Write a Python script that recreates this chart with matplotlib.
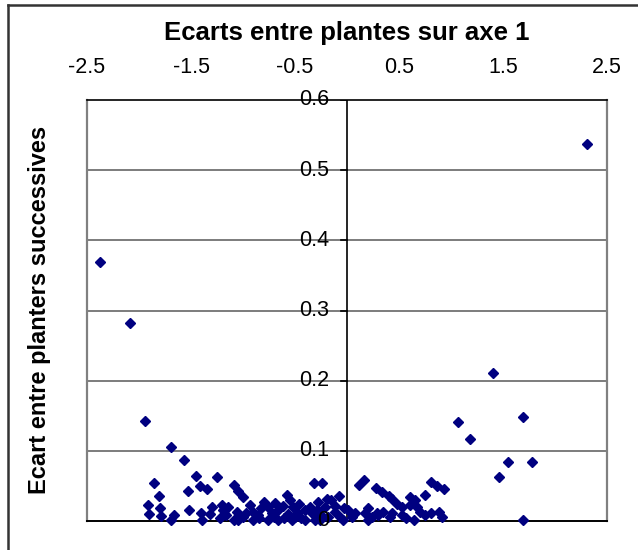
import matplotlib
matplotlib.use("Agg")
from matplotlib import pyplot as plt
from matplotlib.lines import Line2D

# Ecarts entre plantes (axe 1) / ecart entre planters successives
x_left = [-2.375, -2.087, -1.94, -1.69, -1.57, -1.86, -1.81, -1.91, -1.90, -1.80,
          -1.79, -1.69, -1.66, -1.53, -1.52, -1.45, -1.41, -1.35, -1.25, -1.40,
          -1.39, -1.32, -1.30, -1.22, -1.20, -1.19, -1.16, -1.09, -1.045, -1.00,
          -1.14, -1.09, -1.06, -1.05, -1.00, -0.93, -0.90, -0.90, -0.85, -0.80,
          -0.76, -0.76, -0.72, -0.69, -0.66, -0.66, -0.61, -0.58, -0.55, -0.53,
          -0.52, -0.48, -0.44, -0.40, -0.40, -0.34, -0.32, -0.24, -0.29, -0.28,
          -0.31, -0.21, -0.195, -0.18, -0.15, -0.115, -0.08, -0.07, -0.035,
          -0.97, -0.83, -0.62, -0.57, -0.46, -0.36, -0.25, -0.12, -0.03, -0.86,
          -0.70, -0.50, -0.26]
y_left = [0.369, 0.282, 0.142, 0.105, 0.087, 0.054, 0.035, 0.023, 0.010, 0.018,
          0.007, 0.0015, 0.0085, 0.043, 0.016, 0.064, 0.050, 0.045, 0.062, 0.012,
          0.0015, 0.010, 0.020, 0.004, 0.023, 0.016, 0.0085, 0.051, 0.043, 0.034,
          0.020, 0.0015, 0.013, 0.0015, 0.006, 0.023, 0.013, 0.0015, 0.004, 0.027,
          0.020, 0.0015, 0.011, 0.025, 0.016, 0.0015, 0.004, 0.037, 0.030, 0.0015,
          0.020, 0.011, 0.004, 0.016, 0.0015, 0.011, 0.054, 0.054, 0.016, 0.027,
          0.0015, 0.020, 0.031, 0.006, 0.030, 0.013, 0.036, 0.006, 0.0015,
          0.012, 0.018, 0.022, 0.010, 0.024, 0.020, 0.008, 0.022, 0.018, 0.008,
          0.006, 0.006, 0.002]

x_right = [0.01, 0.045, 0.08, 0.12, 0.16, 0.205, 0.205, 0.24, 0.173, 0.276,
           0.285, 0.30, 0.34, 0.35, 0.40, 0.43, 0.41, 0.43, 0.48, 0.53,
           0.53, 0.57, 0.61, 0.61, 0.65, 0.67, 0.64, 0.70, 0.75, 0.75,
           0.81, 0.88, 0.91, 0.81, 0.87, 0.93, 1.07, 1.18, 1.40, 1.46,
           1.545, 1.69, 1.78, 1.69, 2.31]
y_right = [0.016, 0.006, 0.011, 0.052, 0.058, 0.018, 0.0015, 0.006, 0.011, 0.047,
           0.011, 0.0085, 0.042, 0.013, 0.036, 0.031, 0.006, 0.011, 0.024, 0.020,
           0.0085, 0.004, 0.034, 0.023, 0.030, 0.020, 0.0015, 0.013, 0.037, 0.0085,
           0.011, 0.013, 0.006, 0.055, 0.050, 0.045, 0.141, 0.117, 0.211, 0.063,
           0.084, 0.148, 0.084, 0.0015, 0.538]

x_ticks = [-2.5, -1.5, -0.5, 0.5, 1.5, 2.5]
y_ticks = [0, 0.1, 0.2, 0.3, 0.4, 0.5, 0.6]

plt.rcParams["font.family"] = "Liberation Sans"

fig = plt.figure(figsize=(6.38, 5.5), dpi=100)
W, H = 638, 550
ax = fig.add_axes([87 / W, 1 - 521 / H, (607 - 87) / W, (521 - 100) / H])

ax.set_xlim(-2.5, 2.5)
ax.set_ylim(0, 0.6)

# gridlines horizontales
for g in y_ticks[1:-1]:
    ax.axhline(g, color="#666666", lw=1.2, zorder=1)

ax.plot(x_left + x_right, y_left + y_right, linestyle="none", marker="D",
        markersize=4.7, color="#000080", zorder=3, clip_on=False)

# cadre
ax.spines["left"].set_visible(False)
ax.spines["right"].set_visible(False)
ax.spines["top"].set_linewidth(1.2)
ax.spines["bottom"].set_linewidth(1.4)
for xv in [-2.5, 2.5]:
    ax.axvline(xv, color="#808080", lw=1.6, clip_on=False, zorder=2)

# axe vertical au milieu (x=0)
ax.axvline(0, color="black", lw=1.2, zorder=2)

ax.xaxis.tick_top()
ax.set_xticks(x_ticks)
ax.set_xticklabels([f"{v:g}" for v in x_ticks])
ax.tick_params(axis="x", length=0, pad=16, labelsize=15.5)

ax.set_yticks([])
for v in y_ticks:
    ax.text(-0.17, v, f"{v:g}", ha="right", va="center", fontsize=15.5, zorder=4)
    ax.plot([-0.06, 0], [v, v], color="black", lw=1.2, zorder=2)

fig.text(347 / W, 1 - 40 / H, "Ecarts entre plantes sur axe 1",
         ha="center", va="baseline", fontsize=18.5, fontweight="bold")
fig.text(40 / W, 1 - 310 / H, "Ecart entre planters successives",
         ha="center", va="center", rotation=90, fontsize=17, fontweight="bold")

# bordure du graphique
fig.add_artist(Line2D([8 / W, 8 / W], [0, 1 - 5 / H], color="#333333", lw=1.8,
                      transform=fig.transFigure))
fig.add_artist(Line2D([8 / W, 1], [1 - 5 / H, 1 - 5 / H], color="#333333", lw=1.8,
                      transform=fig.transFigure))

fig.savefig("out.png", dpi=100)
